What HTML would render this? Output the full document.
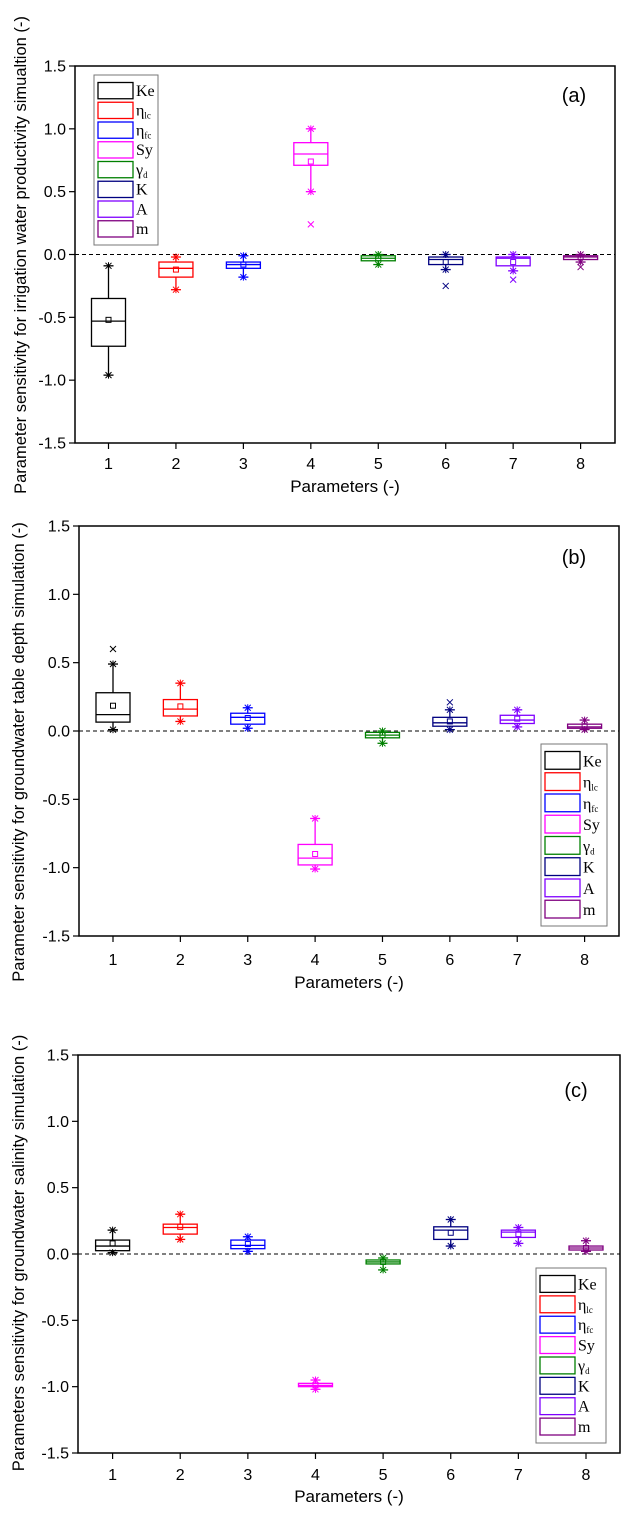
<!DOCTYPE html>
<html><head><meta charset="utf-8"><style>
html,body{margin:0;padding:0;background:#fff;}
svg{display:block;}
text{font-family:"Liberation Sans",sans-serif;}
.lg{font-family:"Liberation Serif",serif;font-size:16px;}
</style></head><body>
<svg id="fig" width="626" height="1515" viewBox="0 0 626 1515" xmlns="http://www.w3.org/2000/svg"></svg>
<script>
const categories = [1,2,3,4,5,6,7,8];
const yTicks = [1.5,1.0,0.5,0.0,-0.5,-1.0,-1.5];
const yTickLabels = ["1.5","1.0","0.5","0.0","-0.5","-1.0","-1.5"];
const seriesNames = ["Ke","η","η","Sy","γ","K","A","m"];
const seriesSubs = ["","lc","fc","","d","","",""];
const colors = ["#000000","#ff0000","#0000ff","#ff00ff","#008000","#000080","#8000ff","#800080"];

const aMin  = [-0.96,-0.28,-0.18,0.50,-0.08,-0.12,-0.13,-0.06];
const aQ1   = [-0.73,-0.18,-0.11,0.71,-0.05,-0.08,-0.09,-0.04];
const aMed  = [-0.53,-0.11,-0.08,0.80,-0.03,-0.04,-0.03,-0.02];
const aQ3   = [-0.35,-0.06,-0.06,0.89,-0.01,-0.02,-0.02,-0.01];
const aMax  = [-0.09,-0.02,-0.01,1.00,0.00,0.00,0.00,0.00];
const aMean = [-0.52,-0.12,-0.08,0.74,-0.03,-0.06,-0.06,-0.02];
const aOut  = [null,null,null,0.24,null,-0.25,-0.20,-0.10];

const bMin  = [0.01,0.07,0.02,-1.01,-0.09,0.01,0.03,0.01];
const bQ1   = [0.065,0.11,0.05,-0.98,-0.05,0.035,0.055,0.02];
const bMed  = [0.12,0.16,0.10,-0.93,-0.03,0.06,0.08,0.03];
const bQ3   = [0.28,0.23,0.13,-0.83,-0.01,0.10,0.115,0.05];
const bMax  = [0.49,0.35,0.17,-0.64,0.00,0.155,0.155,0.08];
const bMean = [0.185,0.18,0.095,-0.90,-0.03,0.07,0.09,0.035];
const bOut  = [0.60,null,null,null,null,0.21,null,null];

const cMin  = [0.01,0.11,0.02,-1.02,-0.12,0.06,0.08,0.02];
const cQ1   = [0.025,0.15,0.04,-1.00,-0.075,0.11,0.125,0.03];
const cMed  = [0.06,0.20,0.065,-0.99,-0.06,0.18,0.165,0.045];
const cQ3   = [0.105,0.225,0.105,-0.975,-0.045,0.205,0.18,0.06];
const cMax  = [0.18,0.30,0.13,-0.95,-0.03,0.26,0.20,0.10];
const cMean = [0.08,0.205,0.075,-0.99,-0.06,0.16,0.15,0.045];
const cOut  = [null,null,null,null,null,null,null,null];

const NS="http://www.w3.org/2000/svg";
const svg=document.getElementById('fig');
function mk(tag,attrs,parent){const e=document.createElementNS(NS,tag);for(const k in attrs)e.setAttribute(k,attrs[k]);(parent||svg).appendChild(e);return e;}

function panel(p){
  const g=mk('g',{});
  
  
  const yS=v=>p.top+(1.5-v)/3*(p.bottom-p.top);
  const xS=c=>p.x1+(c-1)*(p.x8-p.x1)/7;
  const bw=17;
  const fr=mk('rect',{x:p.left,y:p.top,width:p.right-p.left,height:p.bottom-p.top,fill:'none',stroke:'#000','stroke-width':1.5},g);
  
  
  yTicks.forEach((t,i)=>{
    const y=yS(t);
    mk('line',{x1:p.left-6,x2:p.left,y1:y,y2:y,stroke:'#000','stroke-width':1.2},g);
    const tx=mk('text',{x:p.left-9,y:y+5.5,'text-anchor':'end','font-size':16,fill:'#000'},g);
    tx.textContent=yTickLabels[i];
    
    
  });
  categories.forEach(c=>{
    const x=xS(c);
    mk('line',{x1:x,x2:x,y1:p.bottom,y2:p.bottom+6,stroke:'#000','stroke-width':1.2},g);
    const tx=mk('text',{x:x,y:p.tickY,'text-anchor':'middle','font-size':16,fill:'#000'},g);
    tx.textContent=String(c);
    
    
  });
  const zl=mk('line',{x1:p.left,x2:p.right,y1:yS(0),y2:yS(0),stroke:'#000','stroke-width':1,'stroke-dasharray':'4,3'},g);
  
  
  categories.forEach((c,i)=>{
    const x=xS(c),col=colors[i];
    const bg=mk('g',{stroke:col,fill:'none','stroke-width':1.3},g);
    
    
    mk('line',{x1:x,x2:x,y1:yS(p.max[i]),y2:yS(p.q3[i])},bg);
    mk('line',{x1:x,x2:x,y1:yS(p.q1[i]),y2:yS(p.min[i])},bg);
    mk('line',{x1:x-5,x2:x+5,y1:yS(p.max[i]),y2:yS(p.max[i])},bg);
    mk('line',{x1:x-5,x2:x+5,y1:yS(p.min[i]),y2:yS(p.min[i])},bg);
    mk('rect',{x:x-bw,y:yS(p.q3[i]),width:2*bw,height:Math.max(1,yS(p.q1[i])-yS(p.q3[i]))},bg);
    mk('line',{x1:x-bw,x2:x+bw,y1:yS(p.med[i]),y2:yS(p.med[i])},bg);
    mk('rect',{x:x-2.5,y:yS(p.mean[i])-2.5,width:5,height:5,'stroke-width':1},bg);
    [p.min[i],p.max[i]].forEach(v=>{const y=yS(v);
      mk('path',{d:`M${x-3},${y-3}L${x+3},${y+3}M${x-3},${y+3}L${x+3},${y-3}M${x},${y-3.5}L${x},${y+3.5}`,'stroke-width':1},bg);});
    if(p.out[i]!==null){const y=yS(p.out[i]);
      mk('path',{d:`M${x-3},${y-3}L${x+3},${y+3}M${x-3},${y+3}L${x+3},${y-3}`,'stroke-width':1},bg);}
  });
  const pl=mk('text',{x:p.labX,y:p.labY,'text-anchor':'middle','font-size':20,fill:'#000'},g);
  pl.textContent='('+p.id+')';
  
  
  const xt=mk('text',{x:(p.left+p.right)/2,y:p.xtY,'text-anchor':'middle','font-size':17,fill:'#000'},g);
  xt.textContent='Parameters (-)';
  
  
  const yt=mk('text',{x:0,y:0,'text-anchor':'middle','font-size':p.ytSize,fill:'#000',transform:`translate(${p.ytX},${p.ytY}) rotate(-90)`},g);
  yt.textContent=p.ytitle;
  
  
  const lg=mk('g',{},g);
  
  
  mk('rect',{x:p.lx,y:p.ly,width:p.lw,height:p.lh,fill:'#fff',stroke:'#777','stroke-width':1},lg);
  const step=(p.lh-12)/8;
  seriesNames.forEach((n,i)=>{
    const yy=p.ly+6+i*step;
    const e=mk('g',{},lg);
    
    
    mk('rect',{x:p.lx+4,y:yy+1.5,width:35,height:step-3.5,fill:'none',stroke:colors[i],'stroke-width':1.3},e);
    const t=mk('text',{x:p.lx+42,y:yy+step-5,'class':'lg',fill:'#000'},e);
    t.textContent=n;
    if(seriesSubs[i]){const s=mk('tspan',{'font-size':9,dy:3},t);s.textContent=seriesSubs[i];}
  });
}

panel({id:'a',left:75,right:615,top:66,bottom:443,x1:108.5,x8:580.6,tickY:469,xtY:492,labX:574,labY:102,
  ytX:26,ytY:255,ytSize:16.5,ytitle:'Parameter sensitivity for irrigation water productivity simualtion (-)',
  lx:94,ly:75,lw:64,lh:170,min:aMin,q1:aQ1,med:aMed,q3:aQ3,max:aMax,mean:aMean,out:aOut});
panel({id:'b',left:79,right:619,top:526,bottom:936,x1:113,x8:584.6,tickY:965,xtY:988,labX:574,labY:564,
  ytX:24,ytY:752,ytSize:16.5,ytitle:'Parameter sensitivity for groundwater table depth simulation (-)',
  lx:541,ly:744,lw:66,lh:182,min:bMin,q1:bQ1,med:bMed,q3:bQ3,max:bMax,mean:bMean,out:bOut});
panel({id:'c',left:78,right:620,top:1055,bottom:1453,x1:112.6,x8:586,tickY:1480,xtY:1502,labX:576,labY:1097,
  ytX:24,ytY:1253,ytSize:16.5,ytitle:'Parameters sensitivity for groundwater salinity simulation (-)',
  lx:536,ly:1268,lw:70,lh:175,min:cMin,q1:cQ1,med:cMed,q3:cQ3,max:cMax,mean:cMean,out:cOut});
</script>
</body></html>
